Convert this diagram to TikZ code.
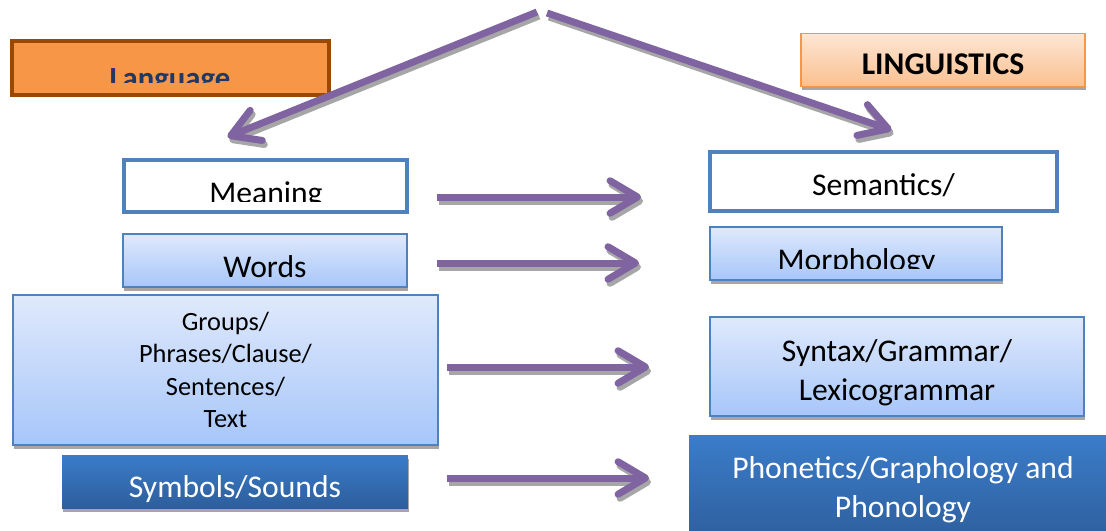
\documentclass[tikz,border=0pt]{standalone}
\usepackage{fontspec}
\setmainfont{Carlito}
\usepackage{tikz}
\usetikzlibrary{arrows.meta,shadows,positioning,calc}
\definecolor{flowpurple}{HTML}{8064A2}
\definecolor{flowshadow}{HTML}{A6A6A6}
\definecolor{boxblue}{HTML}{4F81BD}
\definecolor{lighttop}{HTML}{DFE9FB}
\definecolor{lightbot}{HTML}{A7C6FA}
\definecolor{darktop}{HTML}{3B7CC9}
\definecolor{darkbot}{HTML}{2D5E9C}
\definecolor{langfill}{HTML}{F79646}
\definecolor{langedge}{HTML}{984807}
\definecolor{langtext}{HTML}{1F3864}
\definecolor{lingtop}{HTML}{FDE6D4}
\definecolor{lingbot}{HTML}{FAC090}
\tikzset{
	box/.style = {rectangle, inner sep=0pt, outer sep=0pt, align=center, font=\fontsize{18}{22}\selectfont},
	boxshadow/.style = {drop shadow={shadow xshift=0.02cm, shadow yshift=-0.08cm, fill=flowshadow, opacity=1}},
	whitebox/.style = {box, draw=boxblue, line width=0.07cm, fill=white},
	lightbox/.style = {box, draw=boxblue, line width=0.03cm, top color=lighttop, bottom color=lightbot, boxshadow},
	darkbox/.style = {box, top color=darktop, bottom color=darkbot, text=white},
	langbox/.style = {box, draw=langedge, line width=0.08cm, fill=langfill},
	lingbox/.style = {box, draw=langfill, line width=0.03cm, top color=lingtop, bottom color=lingbot, font=\bfseries\fontsize{18}{22}\selectfont, boxshadow},
	cuttext/.style = {anchor=base, font=\fontsize{18}{22}\selectfont},
	flowbase/.style = {line width=0.14cm, -{Straight Barb[length=0.55cm, width=0.65cm, round]}},
	flowshade/.style = {flowbase, draw=flowshadow, transform canvas={xshift=0.04cm, yshift=-0.08cm}},
	flow/.style = {flowbase, draw=flowpurple}
}

\begin{document}
\begin{tikzpicture}[x=0.02cm, y=-0.02cm]
	\path[use as bounding box, fill=white] (0,0) rectangle (1106,531);

	% headings
	\node [langbox, minimum width=6.34cm, minimum height=1.08cm] (language) at (170.5,68) {};
	\begin{scope}
		\clip (14,44) rectangle (327,82);
		\node [cuttext, font=\bfseries\fontsize{17.5}{21}\selectfont, text=langtext] (languagelabel) at (170,88) {Language};
	\end{scope}
	\node [lingbox, minimum width=5.68cm, minimum height=1.06cm, text height=0.6cm, text depth=0pt] (linguistics) at (943,60) {LINGUISTICS};

	% left column
	\node [whitebox, minimum width=5.66cm, minimum height=1.04cm] (meaning) at (265.5,186) {};
	\begin{scope}
		\clip (126,162) rectangle (405,201);
		\node [cuttext] (meaninglabel) at (266,203) {Meaning};
	\end{scope}
	\node [lightbox, minimum width=5.68cm, minimum height=1.06cm, text height=0.66cm, text depth=0pt] (words) at (265,260.5) {Words};
	\node [lightbox, minimum width=8.5cm, minimum height=3cm, font=\fontsize{15}{18.5}\selectfont] (groups) at (225.5,370) {Groups/\\Phrases/Clause/\\Sentences/\\Text};
	\node [darkbox, boxshadow, minimum width=6.92cm, minimum height=1.06cm, text height=0.62cm, text depth=0pt] (symbols) at (235,481.5) {Symbols/Sounds};

	% right column
	\node [whitebox, minimum width=6.94cm, minimum height=1.18cm, text height=0.54cm, text depth=0pt] (semantics) at (883.5,181.5) {Semantics/};
	\node [lightbox, minimum width=5.84cm, minimum height=1.06cm] (morphology) at (856,253.5) {};
	\begin{scope}
		\clip (712,229) rectangle (1000,268);
		\node [cuttext] (morphologylabel) at (856.5,270) {Morphology};
	\end{scope}
	\node [lightbox, minimum width=7.48cm, minimum height=1.98cm, text height=1.45cm] (syntax) at (897,366.5) {Syntax/Grammar/\\Lexicogrammar};
	\node [darkbox, minimum width=8.56cm, minimum height=2.2cm] (phonetics) at (903,490) {Phonetics/Graphology and\\Phonology};

	% arrow ends
	\coordinate (apexleft) at (537,12);
	\coordinate (apexright) at (547,13);
	\coordinate (meaningin) at ([shift={(-38,-23)}]meaning.north);
	\coordinate (semanticsin) at ([shift={(8,-22)}]semantics.north);
	\coordinate (meaningout) at ([shift={(30,11)}]meaning.east);
	\coordinate (semanticsleft) at ([shift={(-69,11)}]meaning.east -| semantics.west);
	\coordinate (wordsout) at ([shift={(30,2.5)}]words.east);
	\coordinate (morphologyleft) at ([shift={(-71,2.5)}]words.east -| morphology.west);
	\coordinate (groupsout) at ([shift={(9,-3)}]groups.east);
	\coordinate (syntaxleft) at ([shift={(-61,-3)}]groups.east -| syntax.west);
	\coordinate (symbolsout) at ([shift={(39,-3.5)}]symbols.east);
	\coordinate (phoneticsleft) at ([shift={(-40,-3.5)}]symbols.east -| phonetics.west);

	% arrows with their shadows
	\foreach \from/\to in {apexleft/meaningin, apexright/semanticsin, meaningout/semanticsleft,
		wordsout/morphologyleft, groupsout/syntaxleft, symbolsout/phoneticsleft}{
		\draw [flowshade] (\from) -- (\to);
		\draw [flow] (\from) -- (\to);
	}
\end{tikzpicture}
\end{document}
